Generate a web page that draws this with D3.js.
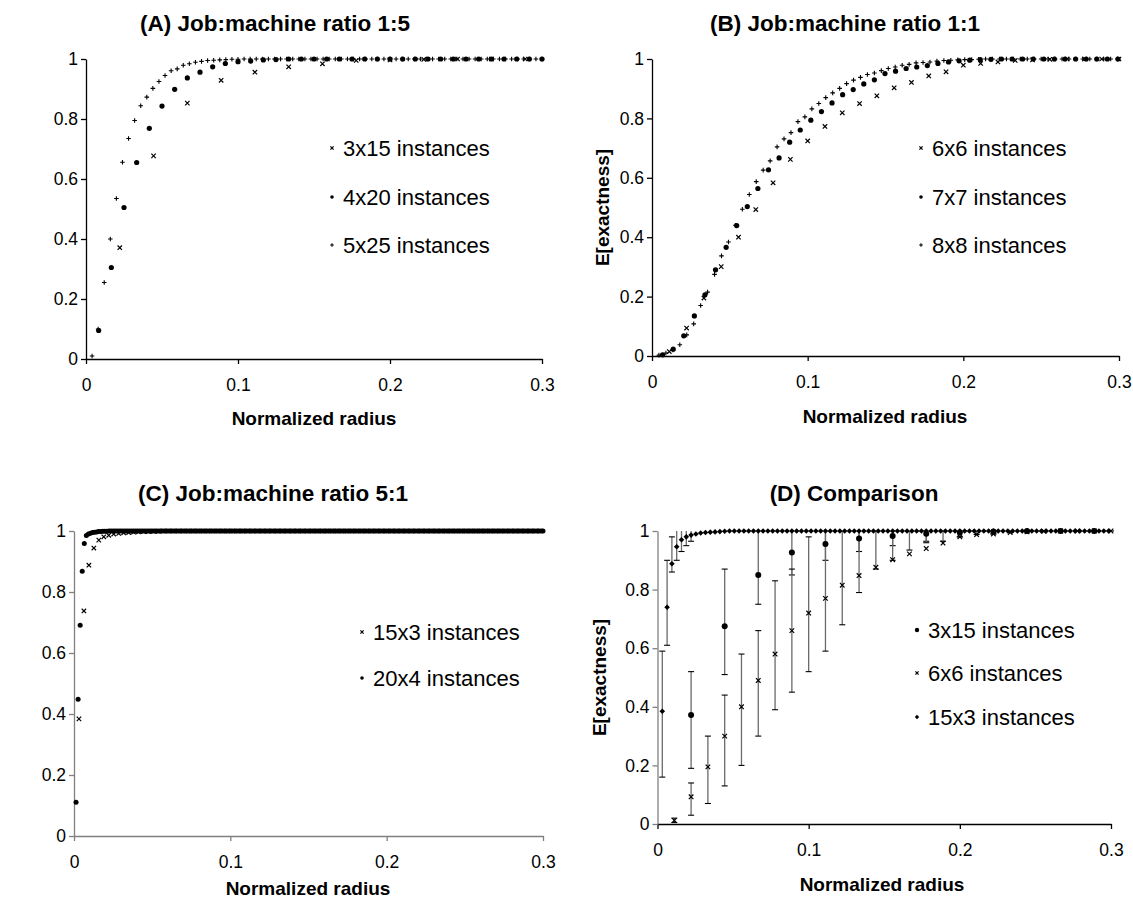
<!DOCTYPE html>
<html><head><meta charset="utf-8">
<script src="https://cdnjs.cloudflare.com/ajax/libs/d3/7.8.5/d3.min.js"></script>
<style>
body{margin:0;background:#fff}
svg{display:block}
text{font-family:"Liberation Sans",Arial,Helvetica,sans-serif;fill:#000}
</style>
</head><body>
<svg id="chart" width="1133" height="901"></svg>
<script>
// ---------- tick labels ----------
const xTicks = [0, 0.1, 0.2, 0.3];
const xTickLabels = ["0", "0.1", "0.2", "0.3"];
const yTicks = [0, 0.2, 0.4, 0.6, 0.8, 1];
const yTickLabels = ["0", "0.2", "0.4", "0.6", "0.8", "1"];

// ---------- titles ----------
const panelTitles = ["(A) Job:machine ratio 1:5", "(B) Job:machine ratio 1:1", "(C) Job:machine ratio 5:1", "(D) Comparison"];
const xAxisTitle = "Normalized radius";
const yAxisTitle = "E[exactness]";

// ---------- radius grid: number of radius steps (max distance) per instance size ----------
const radiusSteps = {"3x15": 45, "4x20": 120, "5x25": 250, "6x6": 90, "7x7": 147, "8x8": 224, "15x3": 315, "20x4": 760};

// ---------- Panel A values (k = 1, 2, ... radius steps) ----------
const a3x15 = [0.371,0.677,0.853,0.929,0.956,0.974,0.984,0.995,0.997,0.999,1,1,1];
const a4x20 = [0.095,0.305,0.505,0.655,0.769,0.843,0.899,0.937,0.956,0.974,0.985,0.991,0.993,0.997,0.998,1,
 1,1,1,1,1,1,1,1,1,1,
 1,1,1,1,1,1,1,1,1,1];
const a5x25 = [0.01,0.1,0.255,0.40,0.535,0.656,0.735,0.795,0.844,0.873,0.902,0.925,0.945,0.961,0.967,0.979,0.984,0.989,0.992,0.995,0.996,0.997,0.998,0.999,0.999,
 1,1,1,1,1,1,1,1,1,1,
 1,1,1,1,1,1,1,1,1,1,
 1,1,1,1,1,1,1,1,1,1,
 1,1,1,1,1,1,1,1,1,1,
 1,1,1,1,1,1,1,1,1,1];

// ---------- Panel B values ----------
const b6x6 = [0.015,0.094,0.195,0.301,0.40,0.493,0.583,0.662,0.724,0.773,0.819,0.85,0.876,0.903,0.921,0.943,0.957,0.979,0.985,0.99,0.995,0.997,0.999,1,1,1,1];
const b7x7 = [0.004,0.023,0.068,0.135,0.206,0.29,0.366,0.439,0.503,0.564,0.627,0.667,0.72,0.761,0.794,0.823,0.852,0.88,0.897,0.916,0.93,0.951,0.959,0.968,0.973,0.978,0.985,0.99,0.994,0.996,0.998,0.999,
 1,1,1,1,1,1,1,1,1,1,1,1];
const b8x8 = [0.003,0.01,0.02,0.038,0.071,0.108,0.17,0.215,0.275,0.337,0.384,0.44,0.494,0.544,0.587,0.626,0.657,0.704,0.731,0.752,0.789,0.805,0.832,0.85,0.87,0.886,0.901,0.917,0.929,0.938,0.948,0.953,0.961,0.968,0.973,0.979,0.982,0.987,0.988,0.99,0.993,0.995,0.996,0.997,0.998,0.998,0.999,
 1,1,1,1,1,1,1,1,1,1,
 1,1,1,1,1,1,1,1,1,1];

// ---------- Panel C values ----------
const c15x3 = [0.384,0.738,0.888,0.944,0.97,0.981,0.986,0.99,0.992,0.994,0.995,0.996,0.997,0.998,0.998,0.999,0.999,
 1,1,1,1,1,1,1,1,1,1,
 1,1,1,1,1,1,1,1,1,1,
 1,1,1,1,1,1,1,1,1,1,
 1,1,1,1,1,1,1,1,1,1,
 1,1,1,1,1,1,1,1,1,1,
 1,1,1,1,1,1,1,1,1,1,
 1,1,1,1,1,1,1,1,1,1,
 1,1,1,1,1,1,1];
const c20x4 = [0.111,0.448,0.691,0.868,0.959,0.985,0.99,0.993,0.995,0.996,0.997,0.998,0.998,0.999,0.999,0.999,
 1,1,1,1,1,1,1,1,1,1, 1,1,1,1,1,1,1,1,1,1, 1,1,1,1,1,1,1,1,1,1,
 1,1,1,1,1,1,1,1,1,1, 1,1,1,1,1,1,1,1,1,1, 1,1,1,1,1,1,1,1,1,1,
 1,1,1,1,1,1,1,1,1,1, 1,1,1,1,1,1,1,1,1,1, 1,1,1,1,1,1,1,1,1,1,
 1,1,1,1,1,1,1,1,1,1, 1,1,1,1,1,1,1,1,1,1, 1,1,1,1,1,1,1,1,1,1,
 1,1,1,1,1,1,1,1,1,1, 1,1,1,1,1,1,1,1,1,1, 1,1,1,1,1,1,1,1,1,1,
 1,1,1,1,1,1,1,1,1,1, 1,1,1,1,1,1,1,1,1,1, 1,1,1,1,1,1,1,1,1,1,
 1,1,1,1,1,1,1,1,1,1, 1,1,1,1,1,1,1,1,1,1, 1,1,1,1,1,1,1,1,1,1,
 1,1];

// ---------- Panel D values with error bar ends ----------
const d3x15 = [0.372,0.675,0.85,0.927,0.956,0.974,0.983,0.991,0.995,0.998,1,1,1];
const d3x15Low = [0.19,0.51,0.75,0.85,0.9,0.93,0.95,0.965,0.98,0.99,1,1,1];
const d3x15High = [0.52,0.87,1,1,1,1,1,1,1,1,1,1,1];
const d6x6 = [0.012,0.093,0.195,0.30,0.40,0.49,0.58,0.66,0.72,0.77,0.815,0.848,0.876,0.902,0.922,0.94,0.959,0.98,0.988,0.99,0.995,0.997,0.999,1,1,1,1];
const d6x6Low = [0.005,0.03,0.07,0.13,0.20,0.30,0.39,0.45,0.52,0.59,0.68,0.79,0.87,0.9,0.935,0.96,0.965,0.98,0.988,0.99,0.995,0.997,0.999,1,1,1,1];
const d6x6High = [0.02,0.14,0.30,0.44,0.58,0.66,0.83,0.87,0.98,1,1,1,1,1,1,1,1,1,1,1,1,1,1,1,1,1,1];
const d15x3 = [0.385,0.74,0.888,0.946,0.97,0.98,0.986,0.99,0.993,0.995,0.996,0.997,0.998,0.999,
 1,1,1,1,1,1,1,1,1,1, 1,1,1,1,1,1,1,1,1,1, 1,1,1,1,1,1,1,1,1,1, 1,1,1,1,1,1,1,1,1,1,
 1,1,1,1,1,1,1,1,1,1, 1,1,1,1,1,1,1,1,1,1, 1,1,1,1,1,1,1,1,1,1, 1,1,1,1,1,1,1,1,1,1];
const d15x3Low = [0.16,0.61,0.86,0.9,0.93,0.95,0.965];
const d15x3High = [0.59,0.90,0.98,1,1,1,1];

// ---------- drawing ----------
const svg = d3.select("#chart");
const F = "Liberation Sans, Arial, sans-serif";

const symbols = {
  cross: (g, s) => g.append("path").attr("d", `M${-s},${-s}L${s},${s}M${-s},${s}L${s},${-s}`).attr("stroke", "#000").attr("stroke-width", 1.2).attr("fill", "none"),
  plus: (g, s) => g.append("path").attr("d", `M${-s},0H${s}M0,${-s}V${s}`).attr("stroke", "#000").attr("stroke-width", 1.1).attr("fill", "none"),
  dot: (g, s) => g.append("circle").attr("r", s).attr("fill", "#000"),
  diamond: (g, s) => g.append("path").attr("d", `M0,${-s}L${s},0L0,${s}L${-s},0Z`).attr("fill", "#000")
};

function seriesPoints(values, name) {
  return values.map((v, i) => ({x: (i + 1) / radiusSteps[name], y: v, i}));
}

const panels = [
  {title: panelTitles[0], titleX: 275, titleY: 23, x0: 86, x1: 542, y0: 359, y1: 59, axisColor: "#000", yAxisColor: "#000",
   xTitleX: 314, xTitleY: 418, yTitle: false,
   series: [
     {name: "3x15", values: a3x15, sym: "cross", size: 2.2, legendSize: 1.6},
     {name: "4x20", values: a4x20, sym: "dot", size: 2.6, legendSize: 1.8},
     {name: "5x25", values: a5x25, sym: "plus", size: 2.3, legendSize: 1.8}],
   legendX: 332, legendY: [148, 197, 245]},
  {title: panelTitles[1], titleX: 845, titleY: 23, x0: 652, x1: 1119, y0: 356, y1: 59, axisColor: "#000", yAxisColor: "#000",
   xTitleX: 885, xTitleY: 416, yTitle: true, yTitleX: 602,
   series: [
     {name: "6x6", values: b6x6, sym: "cross", size: 2.2, legendSize: 1.6},
     {name: "7x7", values: b7x7, sym: "dot", size: 2.6, legendSize: 1.8},
     {name: "8x8", values: b8x8, sym: "plus", size: 2.3, legendSize: 1.8}],
   legendX: 921, legendY: [148, 197, 245]},
  {title: panelTitles[2], titleX: 273, titleY: 493, x0: 74, x1: 543, y0: 836, y1: 531, axisColor: "#808080", yAxisColor: "#808080",
   xTitleX: 308, xTitleY: 888, yTitle: false,
   series: [
     {name: "15x3", values: c15x3, sym: "cross", size: 2.2, legendSize: 1.6},
     {name: "20x4", values: c20x4, sym: "dot", size: 2.5, legendSize: 1.8}],
   legendX: 362, legendY: [632, 678]},
  {title: panelTitles[3], titleX: 854, titleY: 493, x0: 657.5, x1: 1111, y0: 824, y1: 531, axisColor: "#000", yAxisColor: "#808080",
   xTitleX: 882, xTitleY: 884, yTitle: true, yTitleX: 599,
   series: [
     {name: "3x15", values: d3x15, low: d3x15Low, high: d3x15High, sym: "dot", size: 3, legendSize: 2.2},
     {name: "6x6", values: d6x6, low: d6x6Low, high: d6x6High, sym: "cross", size: 2.3, legendSize: 1.6},
     {name: "15x3", values: d15x3, low: d15x3Low, high: d15x3High, sym: "diamond", size: 2.8, legendSize: 2.2}],
   legendX: 917, legendY: [630, 673, 717]}
];

panels.forEach(p => {
  const g = svg.append("g");
  const x = d3.scaleLinear().domain([0, 0.3]).range([p.x0, p.x1]);
  const y = d3.scaleLinear().domain([0, 1]).range([p.y0, p.y1]).clamp(true);

  // title
  g.append("text").attr("x", p.titleX).attr("y", p.titleY).attr("dy", "0.35em")
    .attr("text-anchor", "middle").attr("font-weight", "bold").attr("font-size", 22.5).text(p.title);

  // x axis
  const xa = g.append("g").attr("transform", `translate(0,${p.y0})`)
    .call(d3.axisBottom(x).tickValues(xTicks).tickFormat((d, i) => xTickLabels[i]).tickSizeInner(5).tickSizeOuter(0).tickPadding(15));
  xa.select(".domain").attr("stroke", p.axisColor).attr("stroke-width", 1.3);
  xa.selectAll(".tick line").attr("stroke", p.axisColor).attr("stroke-width", 1.3);
  xa.selectAll(".tick text").attr("font-size", 17.5).attr("font-family", F).attr("fill", "#000");

  // y axis
  const ya = g.append("g").attr("transform", `translate(${p.x0},0)`)
    .call(d3.axisLeft(y).tickValues(yTicks).tickFormat((d, i) => yTickLabels[i]).tickSizeInner(5).tickSizeOuter(0).tickPadding(3));
  ya.select(".domain").attr("stroke", p.yAxisColor).attr("stroke-width", 1.3);
  ya.selectAll(".tick line").attr("stroke", p.yAxisColor).attr("stroke-width", 1.3);
  ya.selectAll(".tick text").attr("font-size", 17.5).attr("font-family", F).attr("fill", "#000");

  // axis titles
  g.append("text").attr("x", p.xTitleX).attr("y", p.xTitleY).attr("dy", "0.35em")
    .attr("text-anchor", "middle").attr("font-weight", "bold").attr("font-size", 19).text(xAxisTitle);
  if (p.yTitle) {
    g.append("text").attr("transform", `translate(${p.yTitleX},${(p.y0 + p.y1) / 2}) rotate(-90)`).attr("dy", "0.35em")
      .attr("text-anchor", "middle").attr("font-weight", "bold").attr("font-size", 19).text(yAxisTitle);
  }

  // error bars
  p.series.forEach(s => {
    if (!s.low) return;
    const pts = seriesPoints(s.values, s.name).filter(d => d.i < s.low.length);
    const eb = g.append("g");
    pts.forEach(d => {
      const lo = s.low[d.i], hi = s.high[d.i];
      const cx = x(d.x);
      eb.append("line").attr("x1", cx).attr("x2", cx).attr("y1", y(lo)).attr("y2", y(hi))
        .attr("stroke", "#6a6a6a").attr("stroke-width", 1.3);
      eb.append("line").attr("x1", cx - 3).attr("x2", cx + 3).attr("y1", y(lo)).attr("y2", y(lo))
        .attr("stroke", "#000").attr("stroke-width", 1.1);
      if (hi < 1) eb.append("line").attr("x1", cx - 3).attr("x2", cx + 3).attr("y1", y(hi)).attr("y2", y(hi))
        .attr("stroke", "#000").attr("stroke-width", 1.1);
    });
  });

  // markers
  p.series.forEach(s => {
    const pts = seriesPoints(s.values, s.name);
    const mg = g.append("g");
    pts.forEach(d => {
      const m = mg.append("g").attr("transform", `translate(${x(d.x)},${y(d.y)})`);
      symbols[s.sym](m, s.size);
    });
  });

  // legend
  p.series.forEach((s, i) => {
    const lg = g.append("g").attr("transform", `translate(${p.legendX},${p.legendY[i]})`);
    symbols[s.sym](lg.append("g"), s.legendSize);
    lg.append("text").attr("x", 11).attr("dy", "0.35em").attr("font-size", 22).text(`${s.name} instances`);
  });
});
</script>
</body></html>
